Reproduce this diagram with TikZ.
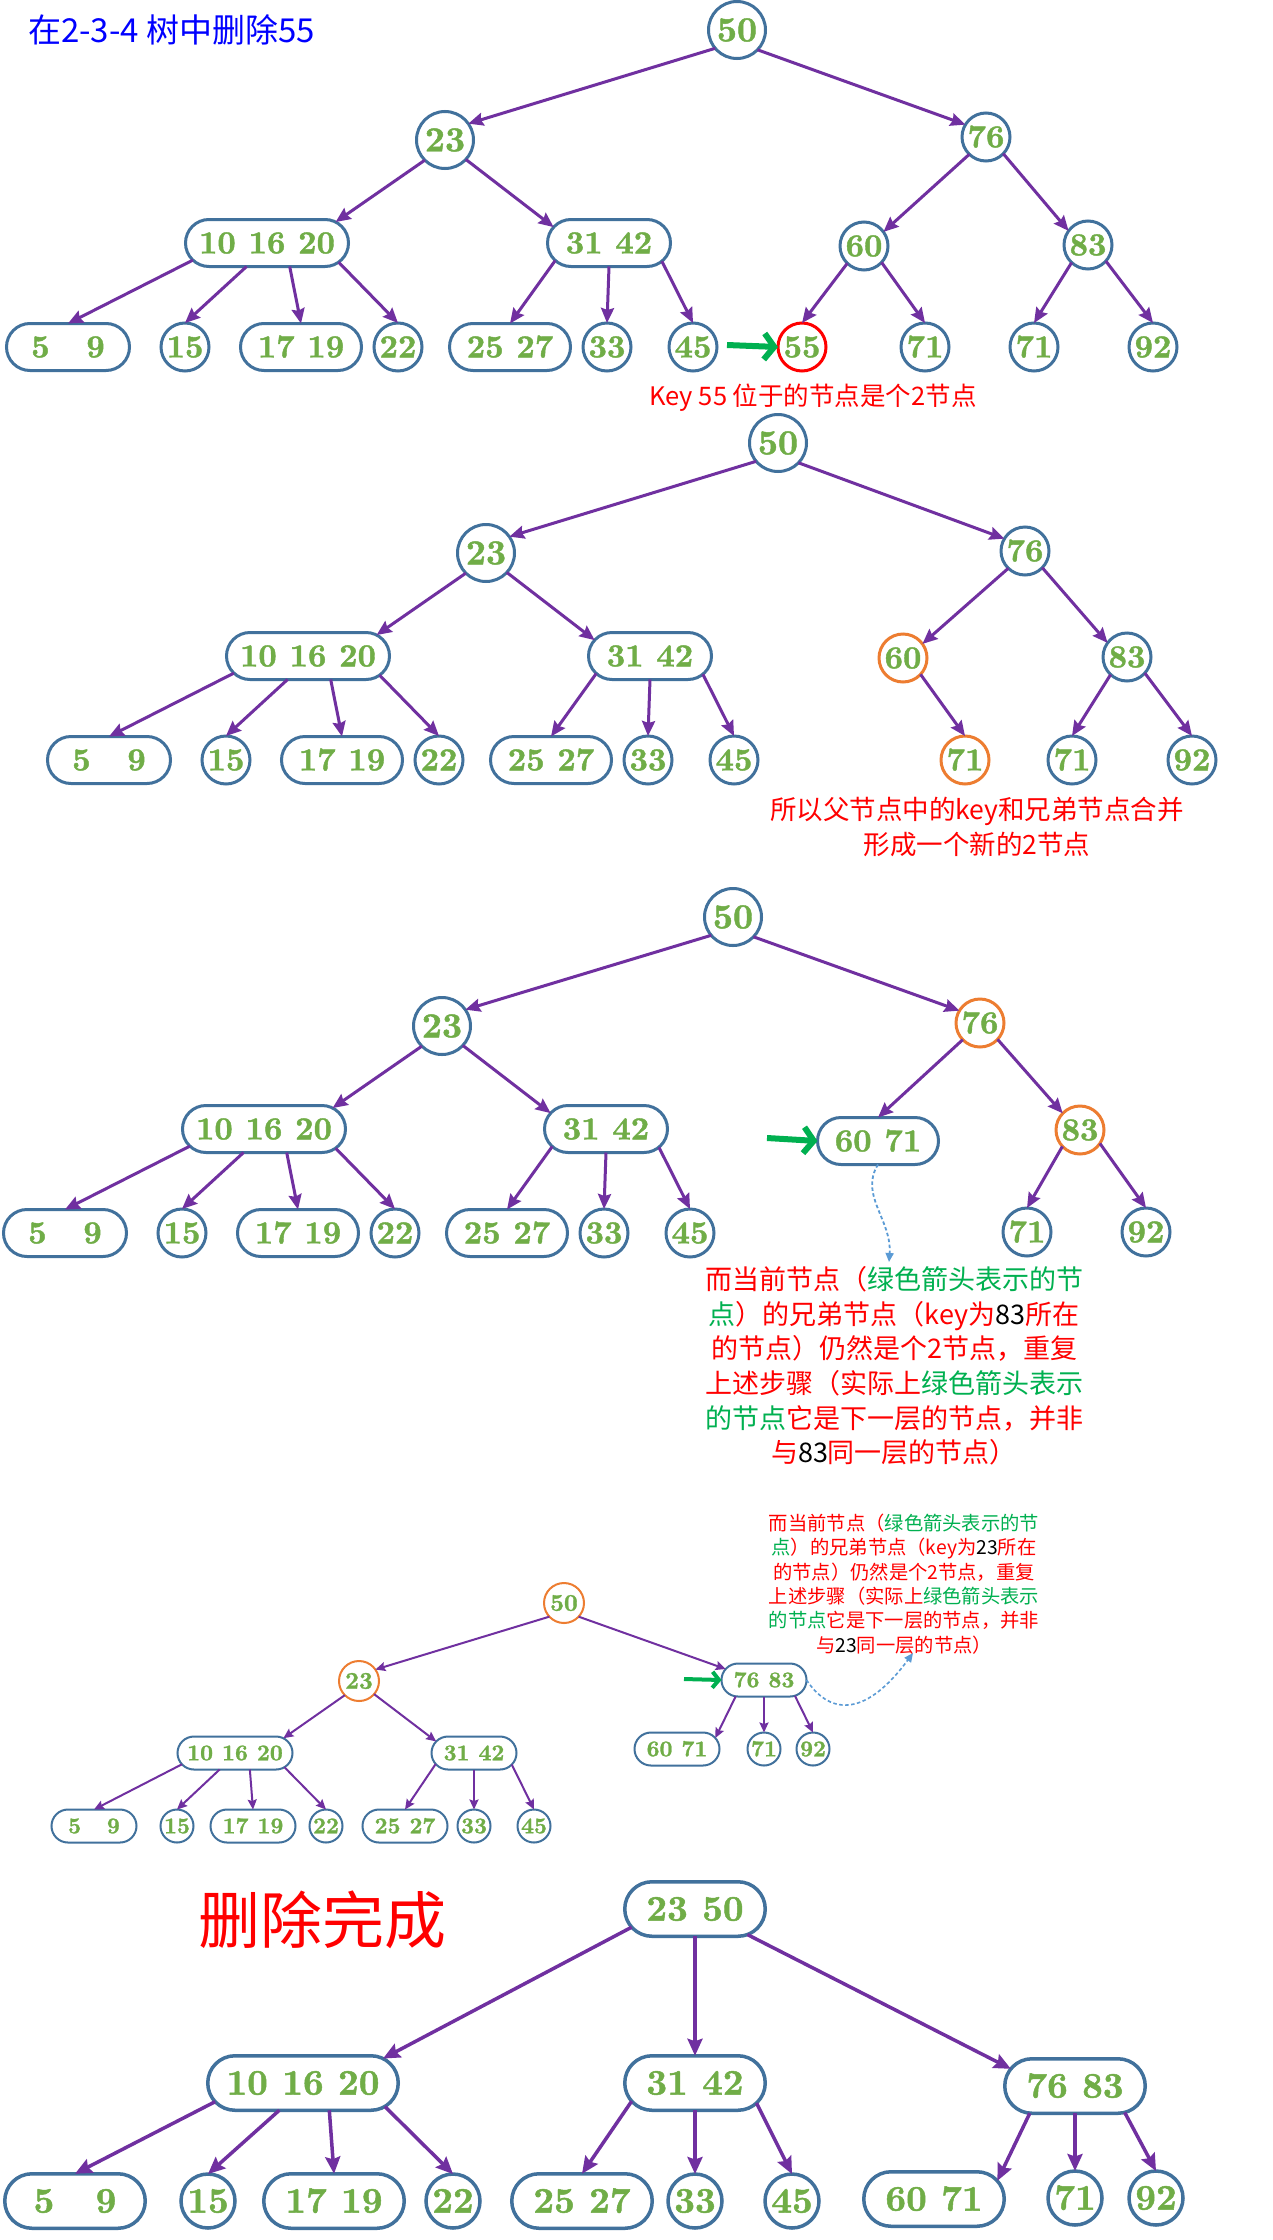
\documentclass[tikz,border=0pt]{standalone}
\usepackage{fontspec}
\newfontfamily\cjk{Noto Sans CJK SC}
\newfontfamily\keyfont{lmroman10-bold.otf}[FakeBold=1.3]
\usetikzlibrary{shapes.geometric,shapes.misc,arrows.meta}
\definecolor{nodeblue}{HTML}{41719C}
\definecolor{keygreen}{HTML}{70AD47}
\definecolor{edgepurple}{HTML}{7030A0}
\definecolor{hlorange}{HTML}{ED7D31}
\definecolor{capred}{HTML}{FF0000}
\definecolor{capgreen}{HTML}{00B050}
\definecolor{dotblue}{HTML}{5B9BD5}
\definecolor{titleblue}{HTML}{0000FF}
\newcommand\keytxt[1]{\makebox[0pt]{\raisebox{-0.322em}[0pt][0pt]{#1}}}
\newcommand\keysp{\hspace{0.4em}}
\newcommand\keygap{\hspace{1.15em}}
\tikzset{
 keynode/.style={fill=white, draw=nodeblue, inner sep=0pt, outer sep=0pt, text=keygreen},
 keycirc/.style={keynode, ellipse, line width=3pt, minimum width=48pt, minimum height=48pt, font=\keyfont\fontsize{32}{32}\selectfont},
 keycircbig/.style={keycirc, minimum width=57pt, minimum height=57pt, font=\keyfont\fontsize{35}{35}\selectfont},
 keybox/.style={keynode, rounded rectangle, line width=3pt, minimum width=121pt, minimum height=47pt, font=\keyfont\fontsize{32}{32}\selectfont},
 keyboxw/.style={keybox, minimum width=163pt},
 smcirc/.style={keynode, ellipse, line width=2pt, minimum width=33pt, minimum height=33pt, font=\keyfont\fontsize{22.5}{22.5}\selectfont},
 smcircbig/.style={smcirc, minimum width=40pt, minimum height=40pt, font=\keyfont\fontsize{24}{24}\selectfont},
 smbox/.style={keynode, rounded rectangle, line width=2pt, minimum width=85pt, minimum height=33pt, font=\keyfont\fontsize{22.5}{22.5}\selectfont},
 smboxw/.style={smbox, minimum width=115pt},
 lgcirc/.style={keynode, ellipse, line width=3.5pt, minimum width=54pt, minimum height=54pt, font=\keyfont\fontsize{36}{36}\selectfont},
 lgbox/.style={keynode, rounded rectangle, line width=3.5pt, minimum width=140.5pt, minimum height=54.5pt, font=\keyfont\fontsize{36}{36}\selectfont},
 lgboxw/.style={lgbox, minimum width=190.5pt},
 pedge/.style={draw=edgepurple, line width=3pt, -{Stealth[length=15pt,width=13pt,inset=2pt]}},
 pedgesm/.style={draw=edgepurple, line width=2pt, -{Stealth[length=10pt,width=9pt,inset=1.5pt]}},
 pedgelg/.style={draw=edgepurple, line width=3.5pt, -{Stealth[length=17pt,width=15pt,inset=2.5pt]}},
 garrow/.style={draw=capgreen, line width=6pt, -{Straight Barb[length=10pt,width=26pt]}},
 garrowsm/.style={draw=capgreen, line width=4pt, -{Straight Barb[length=6.5pt,width=16pt]}},
 dotarr/.style={draw=dotblue, line width=1.8pt, dash pattern=on 3.5pt off 2.5pt, -{Triangle[length=9pt,width=8pt]}},
 ttl/.style={font=\cjk\fontsize{33}{40}\selectfont, text=titleblue, inner sep=0pt},
 capA/.style={font=\cjk\fontsize{25.5}{30}\selectfont, text=capred, inner sep=0pt},
 capB/.style={font=\cjk\fontsize{26.5}{35}\selectfont, text=capred, align=center, inner sep=0pt},
 capC/.style={font=\cjk\fontsize{27}{34.6}\selectfont, align=center, inner sep=0pt},
 capD/.style={font=\cjk\fontsize{19.3}{24.4}\selectfont, align=center, inner sep=0pt},
 bigcap/.style={font=\cjk\fontsize{62}{70}\selectfont, text=capred, inner sep=0pt}
}
\newcommand\LeftTree{%
 \node[keycircbig] (n23) at (445,140) {\keytxt{23}};
 \node[keyboxw] (n101620) at (267,243) {\keytxt{10\keysp16\keysp20}};
 \node[keybox, minimum width=123pt] (n3142) at (609,243) {\keytxt{31\keysp42}};
 \node[keybox, minimum width=123pt] (n59) at (68,347) {\keytxt{5\keygap9}};
 \node[keycirc] (n15) at (185,347) {\keytxt{15}};
 \node[keybox] (n1719) at (301,347) {\keytxt{17\keysp19}};
 \node[keycirc] (n22) at (398,347) {\keytxt{22}};
 \node[keybox] (n2527) at (510,347) {\keytxt{25\keysp27}};
 \node[keycirc] (n33) at (607,347) {\keytxt{33}};
 \node[keycirc] (n45) at (693,347) {\keytxt{45}};
 \draw[pedge] (n23.225) -- (n101620.17);
 \draw[pedge] (n23.317) -- (n3142.164);
 \draw[pedge] (n101620.193) -- (n59.north);
 \draw[pedge] (n101620.229) -- (n15.north);
 \draw[pedge] (n101620.314) -- (n1719.north);
 \draw[pedge] (n101620.345) -- (n22.north);
 \draw[pedge] (n3142.198) -- (n2527.north);
 \draw[pedge] (n3142.south) -- (n33.north);
 \draw[pedge] (n3142.341) -- (n45.north);
}
\begin{document}
\begin{tikzpicture}[x=1pt,y=-1pt]
\useasboundingbox (0,0) rectangle (1272,2240);
\fill[white] (0,0) rectangle (1272,2240);

% ---------- Panel 1 ----------
\node[ttl, anchor=west] (title) at (28,30) {在2-3-4 树中删除55};
\begin{scope}[name prefix=p1-]
 \node[keycircbig] (n50) at (737,30) {\keytxt{50}};
 \LeftTree
 \node[keycirc] (n76) at (986,137) {\keytxt{76}};
 \node[keycirc] (n60) at (864,246) {\keytxt{60}};
 \node[keycirc] (n83) at (1088,245) {\keytxt{83}};
 \node[keycirc, draw=capred] (n55) at (802,347) {\keytxt{55}};
 \node[keycirc] (n71a) at (925,347) {\keytxt{71}};
 \node[keycirc] (n71b) at (1034,347) {\keytxt{71}};
 \node[keycirc] (n92) at (1153,347) {\keytxt{92}};
 \draw[pedge] (n50.220) -- (n23.35);
 \draw[pedge] (n50.316) -- (n76.149);
 \draw[pedge] (n76.226) -- (n60.36);
 \draw[pedge] (n76.316) -- (n83.144);
 \draw[pedge] (n60.226) -- (n55.north);
 \draw[pedge] (n60.317) -- (n71a.north);
 \draw[pedge] (n83.227) -- (n71b.north);
 \draw[pedge] (n83.318) -- (n92.north);
 \coordinate (g) at (727,345);
 \draw[garrow] (g) -- (n55.west);
\end{scope}
\node[capA] (cap1) at (813,398) {Key 55 位于的节点是个2节点};

% ---------- Panel 2 ----------
\begin{scope}[shift={(41,413)}, name prefix=p2-]
 \node[keycircbig] (n50) at (737,30) {\keytxt{50}};
 \LeftTree
 \node[keycirc] (n76) at (984,138) {\keytxt{76}};
 \node[keycirc, draw=hlorange] (n60) at (862,245) {\keytxt{60}};
 \node[keycirc] (n83) at (1086,244) {\keytxt{83}};
 \node[keycirc, draw=hlorange] (n71a) at (924,347) {\keytxt{71}};
 \node[keycirc] (n71b) at (1031,347) {\keytxt{71}};
 \node[keycirc] (n92) at (1151,347) {\keytxt{92}};
 \draw[pedge] (n50.220) -- (n23.35);
 \draw[pedge] (n50.316) -- (n76.149);
 \draw[pedge] (n76.226) -- (n60.36);
 \draw[pedge] (n76.316) -- (n83.144);
 \draw[pedge] (n60.317) -- (n71a.north);
 \draw[pedge] (n83.227) -- (n71b.north);
 \draw[pedge] (n83.318) -- (n92.north);
\end{scope}
\node[capB] (cap2) at (977,827) {所以父节点中的key和兄弟节点合并\\形成一个新的2节点};

% ---------- Panel 3 ----------
\begin{scope}[shift={(-3,886)}, name prefix=p3-]
 \node[keycircbig] (n50) at (736,31) {\keytxt{50}};
 \LeftTree
 \node[keycirc, draw=hlorange] (n76) at (983,137) {\keytxt{76}};
 \node[keybox] (n6071) at (881,255) {\keytxt{60\keysp71}};
 \node[keycirc, draw=hlorange] (n83) at (1083,244) {\keytxt{83}};
 \node[keycirc] (n71) at (1030,346) {\keytxt{71}};
 \node[keycirc] (n92) at (1149,346) {\keytxt{92}};
 \draw[pedge] (n50.220) -- (n23.35);
 \draw[pedge] (n50.316) -- (n76.149);
 \draw[pedge] (n76.224) -- (n6071.north);
 \draw[pedge] (n76.317) -- (n83.136);
 \draw[pedge] (n83.223) -- (n71.north);
 \draw[pedge] (n83.326) -- (n92.north);
 \coordinate (g) at (770,252);
 \draw[garrow] (g) -- (n6071.west);
 \coordinate (d) at (892,376);
 \draw[dotarr] (n6071.south) .. controls (862,309) and (895,334) .. (d);
\end{scope}
\node[capC] (cap3) at (894,1366) {%
\textcolor{capred}{而当前节点（}\textcolor{capgreen}{绿色箭头表示的节}\\
\textcolor{capgreen}{点}\textcolor{capred}{）的兄弟节点（key为}\textcolor{black}{83}\textcolor{capred}{所在}\\
\textcolor{capred}{的节点）仍然是个2节点，重复}\\
\textcolor{capred}{上述步骤（实际上}\textcolor{capgreen}{绿色箭头表示}\\
\textcolor{capgreen}{的节点}\textcolor{capred}{它是下一层的节点，并非}\\
\textcolor{capred}{与}\textcolor{black}{83}\textcolor{capred}{同一层的节点）}};

% ---------- Panel 4 ----------
\node[smcircbig, draw=hlorange] (q50) at (564,1603) {\keytxt{50}};
\node[smcircbig, draw=hlorange] (q23) at (359,1681) {\keytxt{23}};
\node[smbox] (q7683) at (764,1680) {\keytxt{76\keysp83}};
\node[smboxw] (q101620) at (235,1753) {\keytxt{10\keysp16\keysp20}};
\node[smbox] (q3142) at (474,1753) {\keytxt{31\keysp42}};
\node[smbox] (q59) at (94,1826) {\keytxt{5\keygap9}};
\node[smcirc] (q15) at (177,1826) {\keytxt{15}};
\node[smbox] (q1719) at (253,1826) {\keytxt{17\keysp19}};
\node[smcirc] (q22) at (326,1826) {\keytxt{22}};
\node[smbox] (q2527) at (405,1826) {\keytxt{25\keysp27}};
\node[smcirc] (q33) at (474,1826) {\keytxt{33}};
\node[smcirc] (q45) at (534,1826) {\keytxt{45}};
\node[smbox] (q6071) at (677,1749) {\keytxt{60\keysp71}};
\node[smcirc] (q71) at (764,1749) {\keytxt{71}};
\node[smcirc] (q92) at (813,1749) {\keytxt{92}};
\draw[pedgesm] (q50.223) -- (q23.35);
\draw[pedgesm] (q50.317) -- (q7683.164);
\draw[pedgesm] (q23.225) -- (q101620.17);
\draw[pedgesm] (q23.319) -- (q3142.163);
\draw[pedgesm] (q101620.192) -- (q59.north);
\draw[pedgesm] (q101620.227) -- (q15.north);
\draw[pedgesm] (q101620.312) -- (q1719.north);
\draw[pedgesm] (q101620.344) -- (q22.north);
\draw[pedgesm] (q3142.196) -- (q2527.north);
\draw[pedgesm] (q3142.south) -- (q33.north);
\draw[pedgesm] (q3142.343) -- (q45.north);
\draw[pedgesm] (q7683.210) -- (q6071.16);
\draw[pedgesm] (q7683.south) -- (q71.north);
\draw[pedgesm] (q7683.333) -- (q92.north);
\coordinate (qg) at (684,1679);
\draw[garrowsm] (qg) -- (q7683.west);
\coordinate (qd) at (913,1653);
\draw[dotarr, line width=1.6pt] (q7683.east) .. controls (832,1718) and (868,1714) .. (qd);
\node[capD] (cap4) at (904,1584) {%
\textcolor{capred}{而当前节点（}\textcolor{capgreen}{绿色箭头表示的节}\\
\textcolor{capgreen}{点}\textcolor{capred}{）的兄弟节点（key为}\textcolor{black}{23}\textcolor{capred}{所在}\\
\textcolor{capred}{的节点）仍然是个2节点，重复}\\
\textcolor{capred}{上述步骤（实际上}\textcolor{capgreen}{绿色箭头表示}\\
\textcolor{capgreen}{的节点}\textcolor{capred}{它是下一层的节点，并非}\\
\textcolor{capred}{与}\textcolor{black}{23}\textcolor{capred}{同一层的节点）}};

% ---------- Panel 5 ----------
\node[bigcap] (done) at (322,1920) {删除完成};
\node[lgbox] (r2350) at (695,1909) {\keytxt{23\keysp50}};
\node[lgboxw] (r101620) at (303,2083) {\keytxt{10\keysp16\keysp20}};
\node[lgbox] (r3142) at (695,2083) {\keytxt{31\keysp42}};
\node[lgbox] (r7683) at (1075,2086) {\keytxt{76\keysp83}};
\node[lgbox] (r59) at (75,2201) {\keytxt{5\keygap9}};
\node[lgcirc] (r15) at (208,2201) {\keytxt{15}};
\node[lgbox] (r1719) at (334,2201) {\keytxt{17\keysp19}};
\node[lgcirc] (r22) at (453,2201) {\keytxt{22}};
\node[lgbox] (r2527) at (582,2201) {\keytxt{25\keysp27}};
\node[lgcirc] (r33) at (695,2201) {\keytxt{33}};
\node[lgcirc] (r45) at (792,2201) {\keytxt{45}};
\node[lgbox] (r6071) at (934,2199) {\keytxt{60\keysp71}};
\node[lgcirc] (r71) at (1075,2198) {\keytxt{71}};
\node[lgcirc] (r92) at (1156,2198) {\keytxt{92}};
\draw[pedgelg] (r2350.196) -- (r101620.17);
\draw[pedgelg] (r2350.south) -- (r3142.north);
\draw[pedgelg] (r2350.334) -- (r7683.165);
\draw[pedgelg] (r101620.192) -- (r59.north);
\draw[pedgelg] (r101620.229) -- (r15.north);
\draw[pedgelg] (r101620.314) -- (r1719.north);
\draw[pedgelg] (r101620.344) -- (r22.north);
\draw[pedgelg] (r3142.196) -- (r2527.north);
\draw[pedgelg] (r3142.south) -- (r33.north);
\draw[pedgelg] (r3142.342) -- (r45.north);
\draw[pedgelg] (r7683.211) -- (r6071.16);
\draw[pedgelg] (r7683.south) -- (r71.north);
\draw[pedgelg] (r7683.332) -- (r92.north);
\end{tikzpicture}
\end{document}
